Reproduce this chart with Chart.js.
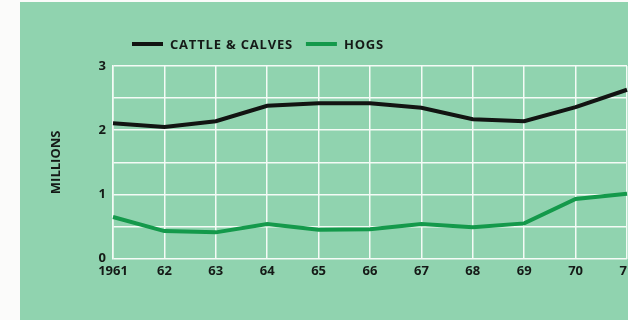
<!DOCTYPE html>
<html>
<head>
<meta charset="utf-8">
<script src="https://cdn.jsdelivr.net/npm/chart.js@4/dist/chart.umd.min.js"></script>
<style>
  html, body { margin: 0; padding: 0; background: #fbfbfa; overflow: hidden; }
  body { width: 628px; height: 320px; position: relative; }
  #panel { position: absolute; left: 20px; top: 2px; width: 640px; height: 318px; background: #90d3af; }
  #panel canvas { display: block; }
</style>
</head>
<body>
<div id="panel"><canvas id="chart" width="640" height="318"></canvas></div>
<script>
// livestock numbers, millions of head
const years = ['1961', '62', '63', '64', '65', '66', '67', '68', '69', '70', '71'];
const cattle = [2.11, 2.05, 2.14, 2.38, 2.42, 2.42, 2.35, 2.17, 2.14, 2.36, 2.63];
const hogs = [0.65, 0.43, 0.41, 0.54, 0.45, 0.46, 0.54, 0.49, 0.55, 0.93, 1.01];
const yLabels = [0, 1, 2, 3];

const FONT = "'Open Sans', 'Liberation Sans', sans-serif";
const INK = '#151a17';

// legend drawn as a row of line swatches + caps text above the grid
const lineLegend = {
  id: 'lineLegend',
  afterDraw(chart) {
    const ctx = chart.ctx;
    let x = 112;
    const y = 42;
    ctx.save();
    ctx.font = `bold 13px ${FONT}`;
    ctx.letterSpacing = '0.8px';
    ctx.textBaseline = 'middle';
    chart.data.datasets.forEach(ds => {
      ctx.strokeStyle = ds.borderColor;
      ctx.lineWidth = 4;
      ctx.beginPath();
      ctx.moveTo(x, y);
      ctx.lineTo(x + 31, y);
      ctx.stroke();
      ctx.fillStyle = INK;
      ctx.fillText(ds.label, x + 38, y + 1);
      x += 38 + ctx.measureText(ds.label).width + 13;
    });
    ctx.restore();
  }
};

new Chart(document.getElementById('chart'), {
  type: 'line',
  data: {
    labels: years,
    datasets: [
      { label: 'CATTLE & CALVES', data: cattle, borderColor: '#121412', borderWidth: 4, pointRadius: 0, tension: 0 },
      { label: 'HOGS', data: hogs, borderColor: '#14994b', borderWidth: 4, pointRadius: 0, tension: 0 }
    ]
  },
  options: {
    responsive: false,
    animation: false,
    layout: { padding: { top: 64, right: 33, left: 0, bottom: 0 } },
    plugins: { legend: { display: false }, tooltip: { enabled: false } },
    scales: {
      x: {
        grid: { color: '#f4fbf6', lineWidth: 1.5, drawTicks: false },
        border: { display: false },
        ticks: { color: INK, font: { family: FONT, size: 13, weight: 'bold' }, padding: 5, maxRotation: 0, autoSkip: false },
        afterFit: s => { s.height = 61.3; }
      },
      y: {
        min: 0,
        max: 3,
        grid: { color: '#f4fbf6', lineWidth: 1.5, drawTicks: false },
        border: { color: '#f4fbf6', width: 1.5 },
        ticks: {
          stepSize: 0.5,
          color: INK,
          padding: 7,
          font: { family: FONT, size: 13, weight: 'bold' },
          callback: v => yLabels.includes(v) ? String(v) : ''
        },
        title: { display: true, text: 'MILLIONS', color: INK, font: { family: FONT, size: 13, weight: 'bold' }, padding: { top: 28 } },
        afterFit: s => { s.width = 93; }
      }
    }
  },
  plugins: [lineLegend]
});
</script>
</body>
</html>
